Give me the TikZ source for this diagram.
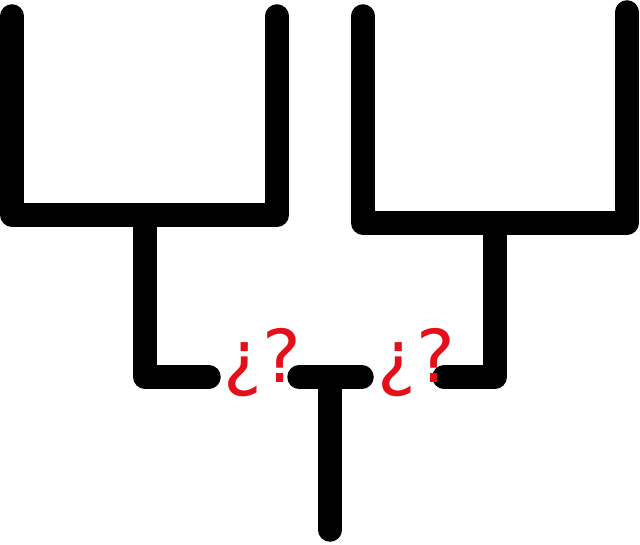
\documentclass[tikz,border=0pt]{standalone}
\usepackage{fontspec}
\newfontfamily\qfont{DejaVu Sans}
\definecolor{qred}{HTML}{E3101A}
\begin{document}
\begin{tikzpicture}[x=1pt,y=-1pt,
  bar/.style={line width=23.5pt,line cap=round,line join=round,black},
  qmark/.style={text=qred,font=\qfont\fontsize{73}{80}\selectfont,inner sep=0pt,anchor=base}]
\useasboundingbox (0,0) rectangle (640,545);
% left bracket
\coordinate (l1) at (12,16);
\coordinate (l2) at (12,215);
\coordinate (l3) at (277,215);
\coordinate (l4) at (277,16);
\coordinate (ls) at (145,215);
\coordinate (lc) at (145,377);
\coordinate (le) at (209,377);
% right bracket
\coordinate (r1) at (363,16);
\coordinate (r2) at (363,223);
\coordinate (r3) at (627,223);
\coordinate (r4) at (627,12);
\coordinate (rs) at (495,223);
\coordinate (rc) at (495,377);
\coordinate (re) at (444,377);
% center T
\coordinate (t1) at (299,377);
\coordinate (t2) at (362,377);
\coordinate (tm) at (330,384);
\coordinate (tb) at (330,530);
\draw[bar] (l1) -- (l2) -- (l3) -- (l4);
\draw[bar] (ls) -- (lc) -- (le);
\draw[bar] (r1) -- (r2) -- (r3) -- (r4);
\draw[bar] (rs) -- (rc) -- (re);
\draw[bar] (tm) -- (tb);
\draw[bar] (t1) -- (t2);
\node[qmark] (q1) at (262,382) {¿?};
\node[qmark] (q2) at (416,382) {¿?};
\end{tikzpicture}
\end{document}
